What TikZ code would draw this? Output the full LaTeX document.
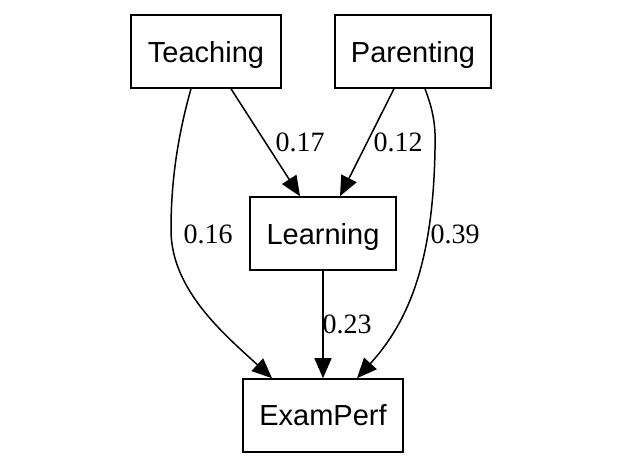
\documentclass[tikz,border=0pt]{standalone}
\usepackage{fontspec}
\newfontfamily\nodefont{Liberation Sans}
\newfontfamily\labfont{Liberation Serif}
\usetikzlibrary{arrows.meta}
\begin{document}
\begin{tikzpicture}[x=1pt,y=-1pt,
  box/.style={draw,line width=1.6pt,minimum height=73pt,inner sep=0pt,text depth=0pt,font=\nodefont\fontsize{29}{29}\selectfont},
  edge/.style={line width=1.5pt,-{Triangle[length=20pt,width=17pt]}},
  lab/.style={font=\labfont\fontsize{28}{28}\selectfont,inner sep=0pt}]
\useasboundingbox (0,0) rectangle (624,463);
\node[box,minimum width=150pt] (T) at (206,51.5) {Teaching};
\node[box,minimum width=156pt] (P) at (413,51.5) {Parenting};
\node[box,minimum width=146pt] (L) at (323,233.5) {Learning};
\node[box,minimum width=160pt] (E) at (323,415.5) {ExamPerf};
\draw[edge] ([xshift=25pt]T.south) -- ([xshift=-23pt]L.north);
\draw[edge] ([xshift=-19pt]P.south) -- ([xshift=17pt]L.north);
\draw[edge] (L.south) -- (E.north);
\draw[edge] ([xshift=-15pt]T.south) .. controls (178,135) and (171,180) .. (171,230)
  .. controls (171,290) and (225,335) .. ([xshift=-51pt]E.north);
\draw[edge] ([xshift=12pt]P.south) .. controls (433,110) and (436,125) .. (435,150)
  .. controls (433,260) and (410,320) .. ([xshift=34pt]E.north);
\node[lab] (l1) at (300,142) {0.17};
\node[lab] (l2) at (398,142) {0.12};
\node[lab] (l3) at (208,234) {0.16};
\node[lab] (l4) at (455,234) {0.39};
\node[lab] (l5) at (347,324) {0.23};
\end{tikzpicture}
\end{document}
